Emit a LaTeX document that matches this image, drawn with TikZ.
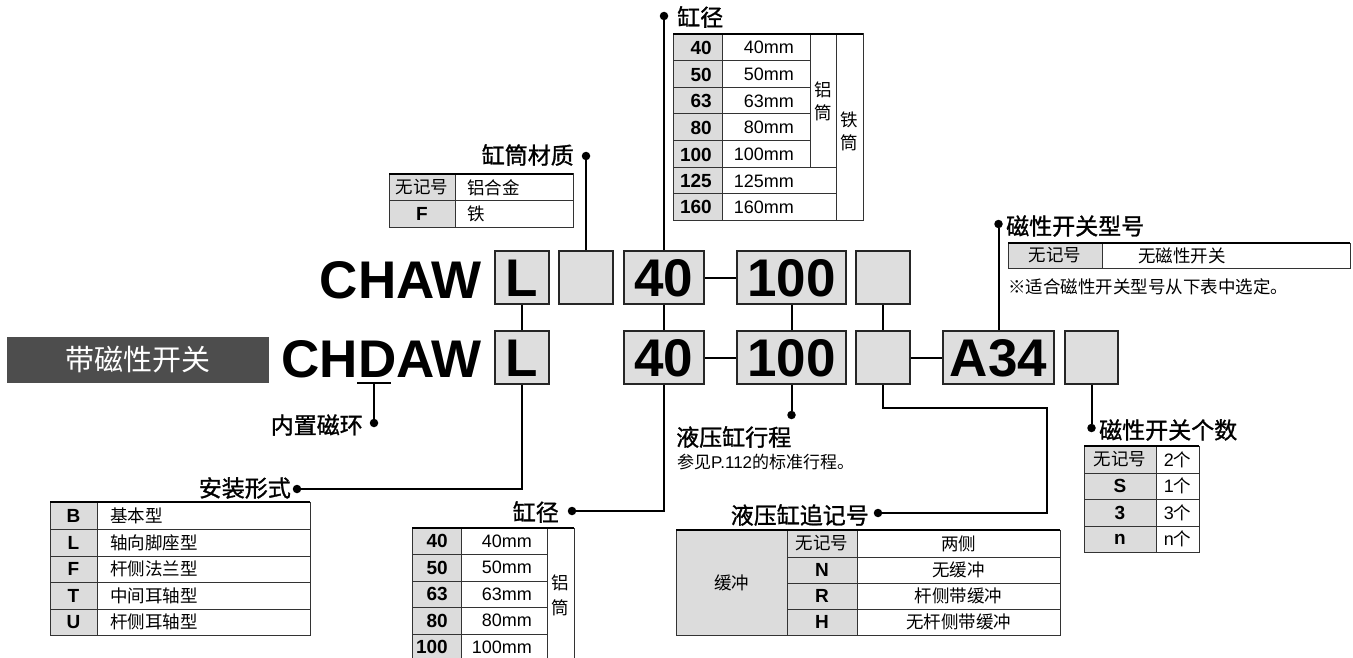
\documentclass[tikz,border=0pt]{standalone}
\usepackage{fontspec}
\setmainfont{Liberation Sans}
\newfontfamily\cjk{Noto Sans CJK SC}
\newfontfamily\cjkt[FakeBold=1.2]{Noto Sans CJK SC}
\definecolor{boxgray}{HTML}{DEDEDE}
\definecolor{cellgray}{HTML}{DCDCDC}
\definecolor{darklab}{HTML}{4D4D4D}
\definecolor{tl}{HTML}{333333}
\tikzset{
  conn/.style={line width=2pt, draw=black},
  dotn/.style={circle, fill=black, inner sep=0pt, minimum size=8.5pt},
  bigbox/.style={draw=black!85, line width=1.8pt, fill=boxgray, inner sep=0pt,
    minimum height=53pt, font=\fontsize{53}{53}\selectfont\bfseries,
    text height=38pt, text depth=0pt},
  big/.style={font=\fontsize{53}{53}\selectfont\bfseries, inner sep=0pt},
  ttl/.style={font=\cjkt\fontsize{23}{23}\selectfont, inner sep=0pt},
  sub/.style={font=\fontsize{17}{19}\selectfont, inner sep=0pt},
  cj/.style={font=\cjk\fontsize{17.5}{21}\selectfont, inner sep=0pt},
  vcj/.style={font=\cjk\fontsize{17.5}{23}\selectfont, inner sep=0pt, align=center},
  num/.style={font=\fontsize{19}{21}\selectfont\bfseries, inner sep=0pt},
  val/.style={font=\fontsize{18}{21}\selectfont, inner sep=0pt},
  tline/.style={draw=tl, line width=1pt},
  ttop/.style={draw=black, line width=2.2pt},
}
\begin{document}
\begin{tikzpicture}[x=1pt,y=-1pt]
\useasboundingbox (0,0) rectangle (1353,658);

% ---------- main code rows ----------
\node[big, anchor=base east] (chaw) at (482,298) {CHAW};
\node[big, anchor=base east] (chdaw) at (482,377) {CHDAW};

\node[bigbox, minimum width=54pt] (L1) at (522,277.5) {L};
\node[bigbox, minimum width=54pt] (E1) at (586,277.5) {};
\node[bigbox, minimum width=80pt] (N1) at (664,277.5) {40};
\node[bigbox, minimum width=109pt] (H1) at (791.5,277.5) {100};
\node[bigbox, minimum width=54pt] (E2) at (883,277.5) {};

\node[bigbox, minimum width=54pt] (L2) at (522,357.5) {L};
\node[bigbox, minimum width=80pt] (N2) at (664,357.5) {40};
\node[bigbox, minimum width=109pt] (H2) at (791.5,357.5) {100};
\node[bigbox, minimum width=54pt] (E2b) at (883,357.5) {};
\node[bigbox, minimum width=111pt] (A2) at (998.5,357.5) {A34};
\node[bigbox, minimum width=53pt] (E3) at (1091.5,357.5) {};

% dark label
\node[fill=darklab, minimum width=262pt, minimum height=46pt, inner sep=0pt,
  text=white, font=\cjk\fontsize{29}{29}\selectfont] (mag) at (138,360) {带磁性开关};

% ---------- dots and titles ----------
\node[dotn] (dBoreT) at (664,16) {};
\node[ttl, anchor=west] (tBoreT) at (677,17) {缸径};
\node[dotn] (dMat) at (586,156) {};
\node[ttl, anchor=east] (tMat) at (574,155) {缸筒材质};
\node[dotn] (dSw) at (998.5,224) {};
\node[ttl, anchor=west] (tSw) at (1006,226) {磁性开关型号};
\node[dotn] (dMag) at (374,423) {};
\node[ttl, anchor=east] (tMag) at (363,425) {内置磁环};
\node[dotn] (dInst) at (297,489) {};
\node[ttl, anchor=east] (tInst) at (291,488) {安装形式};
\node[dotn] (dBoreB) at (572,511) {};
\node[ttl, anchor=east] (tBoreB) at (559,512) {缸径};
\node[dotn] (dStroke) at (791.5,415) {};
\node[ttl, anchor=west] (tStroke) at (676,437) {液压缸行程};
\node[sub, anchor=west] (sStroke) at (677,462) {{\cjk 参见}P.112{\cjk 的标准行程。}};
\node[dotn] (dCode) at (878,513) {};
\node[ttl, anchor=east] (tCode) at (869,515) {液压缸追记号};
\node[dotn] (dCnt) at (1091.5,428) {};
\node[ttl, anchor=west] (tCnt) at (1099,430) {磁性开关个数};

% ---------- connectors ----------
\draw[conn] (L1.south) -- (L2.north);
\draw[conn] (N1.south) -- (N2.north);
\draw[conn] (H1.south) -- (H2.north);
\draw[conn] (E2.south) -- (E2b.north);
\draw[conn] (N1.east) -- (H1.west);
\draw[conn] (N2.east) -- (H2.west);
\draw[conn] (E2b.east) -- (A2.west);
\draw[conn] (E1.north) -- (dMat);
\draw[conn] (N1.north) -- (dBoreT);
\draw[conn] (A2.north) -- (dSw);
\draw[conn] (L2.south) |- (dInst);
\draw[conn] (N2.south) |- (dBoreB);
\draw[conn] (H2.south) -- (dStroke);
\coordinate (cB) at (1047,408);
\draw[conn] (E2b.south) |- (cB) |- (dCode);
\draw[conn] (E3.south) -- (dCnt);
\coordinate (uA) at (357,383);
\coordinate (uB) at (391,383);
\coordinate (uM) at (374,383);
\draw[conn] (uA) -- (uB);
\draw[conn] (uM) -- (dMag);

% ---------- table: top bore ----------
\fill[cellgray] (673,34) rectangle (722,220);
\draw[tline] (673,34) rectangle (863,220);
\foreach \yy in {61,88,114,141} \draw[tline] (673,\yy) -- (810,\yy);
\foreach \yy in {168,194} \draw[tline] (673,\yy) -- (836,\yy);
\draw[tline] (722,34) -- (722,220);
\draw[tline] (810,34) -- (810,168);
\draw[tline] (836,34) -- (836,220);
\draw[ttop] (673,34) -- (863,34);
\foreach \yy/\n in {47.5/40,74.5/50,101/63,127.5/80,154.5/100,181/125,207/160}{
  \node[num, anchor=east] at (712,\yy) {\n};
  \node[val, anchor=east] at (794,\yy) {\n mm};
}
\node[vcj] at (823,101) {铝\\筒};
\node[vcj] at (849.5,131) {铁\\筒};

% ---------- table: cylinder material ----------
\fill[cellgray] (389,174) rectangle (455,227);
\draw[tline] (389,174) rectangle (573,227);
\draw[tline] (389,201) -- (573,201);
\draw[tline] (455,174) -- (455,227);
\draw[ttop] (389,174) -- (573,174);
\node[cj] at (422,187.5) {无记号};
\node[num] at (422,214) {F};
\node[cj, anchor=west] at (467,187.5) {铝合金};
\node[cj, anchor=west] at (467,214) {铁};

% ---------- table: switch model ----------
\fill[cellgray] (1008,243) rectangle (1102,268);
\draw[tline] (1008,243) rectangle (1350,268);
\draw[tline] (1102,243) -- (1102,268);
\draw[ttop] (1008,243) -- (1350,243);
\node[cj] at (1055,255.5) {无记号};
\node[cj] at (1182,255.5) {无磁性开关};
\node[cj, anchor=west] at (1008,287) {※适合磁性开关型号从下表中选定。};

% ---------- table: mounting ----------
\fill[cellgray] (50,502) rectangle (97,635);
\draw[tline] (50,502) rectangle (310,635);
\foreach \yy in {529,556,582,609} \draw[tline] (50,\yy) -- (310,\yy);
\draw[tline] (97,502) -- (97,635);
\draw[ttop] (50,502) -- (310,502);
\foreach \yy/\k/\t in {515.5/B/基本型,542.5/L/轴向脚座型,569/F/杆侧法兰型,595.5/T/中间耳轴型,622/U/杆侧耳轴型}{
  \node[num] at (73.5,\yy) {\k};
  \node[cj, anchor=west] at (110,\yy) {\t};
}

% ---------- table: lower bore ----------
\fill[cellgray] (412,528) rectangle (461,658);
\foreach \yy in {554,581,607,634} \draw[tline] (412,\yy) -- (547,\yy);
\foreach \xx in {412,461,547,574} \draw[tline] (\xx,528) -- (\xx,658);
\draw[ttop] (412,528) -- (574,528);
\foreach \yy/\n in {541/40,567.5/50,594/63,620.5/80,647/100}{
  \node[num, anchor=east] at (448,\yy) {\n};
  \node[val, anchor=east] at (532,\yy) {\n mm};
}
\node[vcj, font=\cjk\fontsize{17.5}{25}\selectfont] at (560.5,595) {铝\\筒};

% ---------- table: hydraulic code ----------
\fill[cellgray] (676,530) rectangle (857,635);
\draw[tline] (676,530) rectangle (1060,635);
\foreach \yy in {557,583,609} \draw[tline] (787,\yy) -- (1060,\yy);
\draw[tline] (787,530) -- (787,635);
\draw[tline] (857,530) -- (857,635);
\draw[ttop] (676,530) -- (1060,530);
\node[cj] at (731.5,582.5) {缓冲};
\node[cj] at (822,543.5) {无记号};
\node[num] at (822,570) {N};
\node[num] at (822,596) {R};
\node[num] at (822,622) {H};
\node[cj] at (958.5,543.5) {两侧};
\node[cj] at (958.5,570) {无缓冲};
\node[cj] at (958.5,596) {杆侧带缓冲};
\node[cj] at (958.5,622) {无杆侧带缓冲};

% ---------- table: switch count ----------
\fill[cellgray] (1084,446) rectangle (1156,552);
\draw[tline] (1084,446) rectangle (1199,552);
\foreach \yy in {473,499,526} \draw[tline] (1084,\yy) -- (1199,\yy);
\draw[tline] (1156,446) -- (1156,552);
\draw[ttop] (1084,446) -- (1199,446);
\node[cj] at (1120,459.5) {无记号};
\node[num] at (1120,486) {S};
\node[num] at (1120,512.5) {3};
\node[num] at (1120,539) {n};
\foreach \yy/\k in {459.5/2,486/1,512.5/3,539/n}
  \node[val] at (1177.5,\yy) {\k{\cjk\fontsize{17.5}{21}\selectfont 个}};
\end{tikzpicture}
\end{document}
